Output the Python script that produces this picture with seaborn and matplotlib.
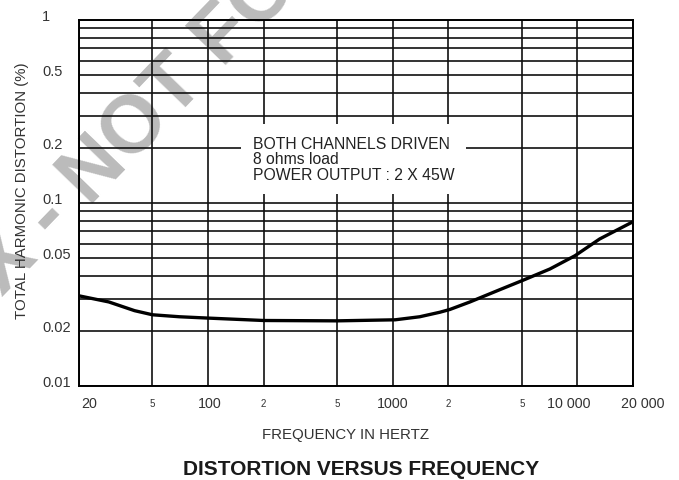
import numpy as np
import pandas as pd
import seaborn as sns
import matplotlib.pyplot as plt
from matplotlib.ticker import FixedLocator, NullFormatter

# values
freq = [20, 29, 40, 50, 70, 100, 200, 500, 1030, 1400, 1800, 2040,
        2620, 3800, 5000, 7100, 9700, 13200, 20000]
thd = [0.0311, 0.0288, 0.0258, 0.0245, 0.0239, 0.0235, 0.0228, 0.0227,
       0.0230, 0.0239, 0.0253, 0.0262, 0.0288, 0.0336, 0.0376,
       0.0436, 0.0515, 0.0636, 0.0790]

y_ticks = [0.01, 0.02, 0.05, 0.1, 0.2, 0.5, 1]
y_labels = ['0.01', '0.02', '0.05', '0.1', '0.2', '0.5', '1']
y_minor = [0.03, 0.04, 0.06, 0.07, 0.08, 0.09, 0.3, 0.4, 0.6, 0.7, 0.8, 0.9]

x_ticks = [20, 50, 100, 200, 500, 1000, 2000, 5000, 10000, 20000]
x_labels = ['20', '5', '100', '2', '5', '1000', '2', '5', '10 000', '20 000']

df = pd.DataFrame({'freq': freq, 'thd': thd})

sns.set_style('white')
plt.rcParams['font.family'] = ['Liberation Sans', 'DejaVu Sans']

fig, ax = plt.subplots(figsize=(6.79, 4.81), dpi=100)
fig.subplots_adjust(left=79/679, right=633/679, top=1-21/481, bottom=1-387/481)
ax.set_facecolor('none')

sns.lineplot(data=df, x='freq', y='thd', color='black', linewidth=2.4, ax=ax, zorder=4)
ax.set_xscale('log')
ax.set_yscale('log')
ax.set_xlim(20, 20000)
ax.set_ylim(0.01, 1)

# grid
ax.xaxis.set_major_locator(FixedLocator(x_ticks))
ax.xaxis.set_minor_locator(FixedLocator([]))
ax.xaxis.set_major_formatter(NullFormatter())
ax.set_yticks(y_ticks, y_labels)
ax.yaxis.set_minor_locator(FixedLocator(y_minor))
ax.yaxis.set_minor_formatter(NullFormatter())
ax.grid(which='both', axis='both', color='#111111', linewidth=1.2)
ax.tick_params(which='both', length=0)
ax.tick_params(axis='y', pad=26.6, labelsize=10.5, labelcolor='#333333')
for lab in ax.get_yticklabels():
    lab.set_horizontalalignment('left')
    lab.set_verticalalignment('baseline')
for s in ax.spines.values():
    s.set_color('black')
    s.set_linewidth(1.4)
ax.set_xlabel('')
ax.set_ylabel('')

# x tick labels
x_offsets = {'20': 7.2, '100': 1.5, '10 000': -6.2, '20 000': 7.0}
for f, lab in zip(x_ticks, x_labels):
    small = lab in ('2', '5')
    ax.annotate(lab, xy=(f, 0), xycoords=('data', 'axes fraction'),
                xytext=(x_offsets.get(lab, 0), -12.2), textcoords='offset points',
                ha='center', va='center', fontsize=7 if small else 10.3,
                color='#333333')

# info box
ax.text(175, 0.174, 'BOTH CHANNELS DRIVEN\n8 ohms load\nPOWER OUTPUT : 2 X 45W',
        ha='left', va='center', fontsize=11.3, linespacing=1.05, color='#222222',
        zorder=6, bbox=dict(boxstyle='square,pad=0.75', fc='white', ec='none'))

fig.text(22/679, 1-191/481, 'TOTAL HARMONIC DISTORTION (%)', rotation=90,
         ha='center', va='center', fontsize=10.8, color='#333333')
fig.text(346/679, 1-435/481, 'FREQUENCY IN HERTZ', ha='center', va='center',
         fontsize=10.8, color='#333333')
fig.text(361/679, 1-470/481, 'DISTORTION VERSUS FREQUENCY', ha='center',
         va='center', fontsize=15, fontweight='bold', color='#1a1a1a')

# watermark
fig.text(2/679, 1-297/481, 'X - NOT FO', rotation=46, rotation_mode='anchor',
         ha='left', va='baseline', fontsize=58, fontweight='bold',
         color='#bbbbbb', zorder=-1)

fig.savefig('out.png', dpi=100)
